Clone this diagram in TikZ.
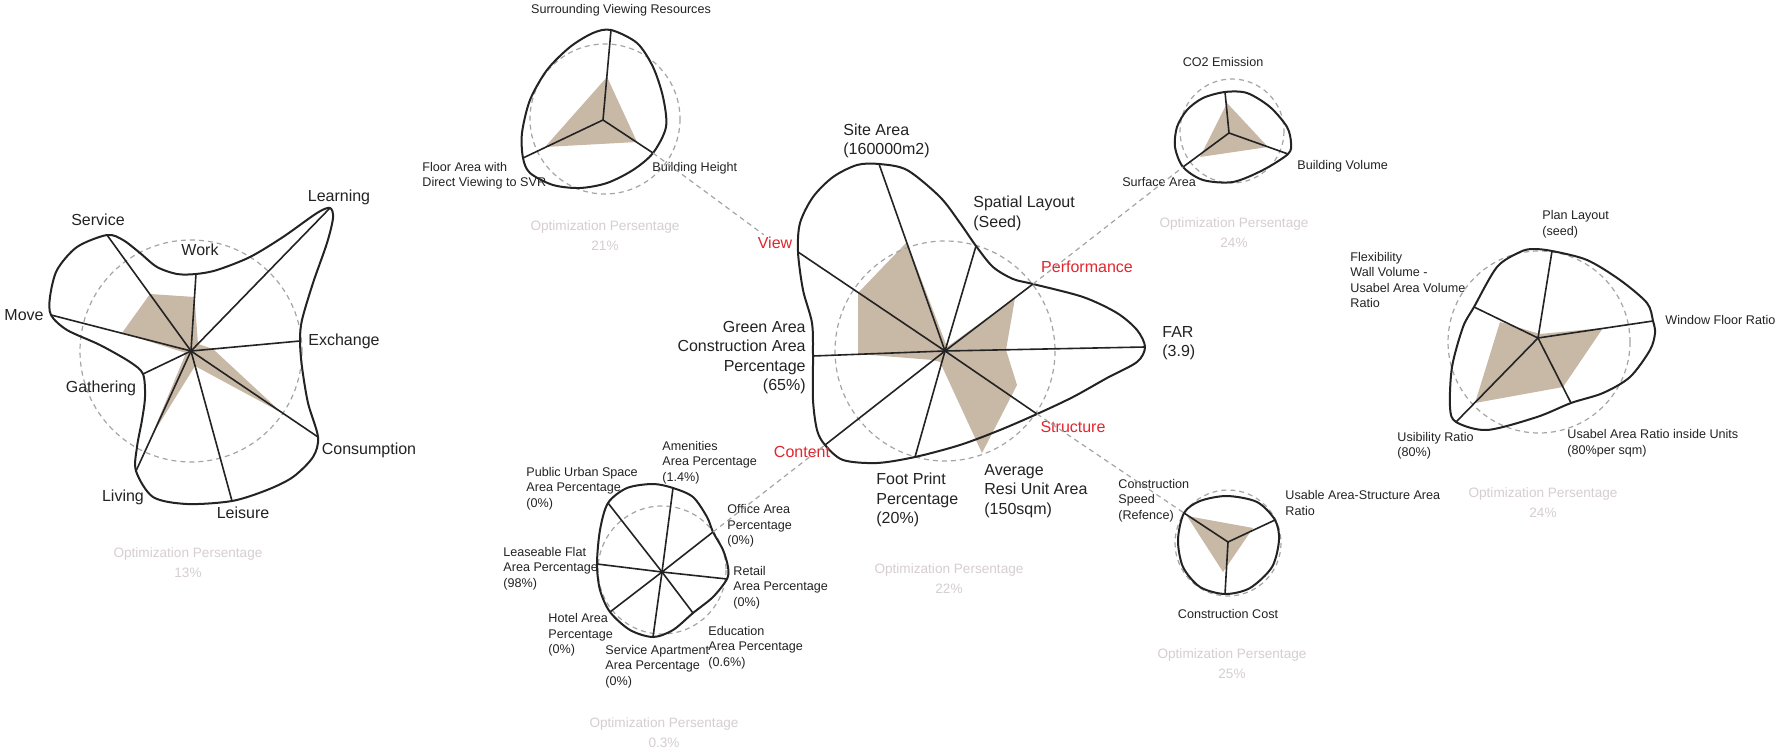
\documentclass[tikz,border=0pt]{standalone}
\usepackage{fontspec}
\setmainfont{Liberation Sans}

\definecolor{ink}{RGB}{35,35,35}
\definecolor{fillbrown}{RGB}{200,184,166}
\definecolor{ringgray}{RGB}{165,165,165}
\definecolor{tagred}{RGB}{226,38,45}
\definecolor{faint}{RGB}{214,206,210}

\tikzset{
  rim/.style={draw=ink, line width=1pt},
  spoke/.style={draw=ink, line width=0.8pt},
  area/.style={fill=fillbrown},
  ring/.style={draw=ringgray, dash pattern=on 2.5pt off 2pt, line width=0.6pt},
  link/.style={ring},
  lbig/.style={inner sep=0pt, text=ink, font=\fontsize{8}{9.75}\selectfont},
  lsmall/.style={inner sep=0pt, text=ink, font=\fontsize{6.3}{7.75}\selectfont},
  tagtext/.style={inner sep=1pt, text=tagred, font=\fontsize{8}{9.75}\selectfont},
  score/.style={inner sep=0pt, text=faint, align=center, font=\fontsize{6.8}{10}\selectfont}
}

\begin{document}
\begin{tikzpicture}[x=0.5pt,y=-0.5pt]

   \fill[white] (0,0) rectangle (1775,753);
   \useasboundingbox (0,0) rectangle (1775,753);

   % left chart
   \coordinate (l_0) at (191,351);
   \coordinate (l_1) at (196,274); \coordinate (l_2) at (330,208);
   \coordinate (l_3) at (300,341); \coordinate (l_4) at (318,437);
   \coordinate (l_5) at (232,501); \coordinate (l_6) at (136,471);
   \coordinate (l_7) at (143,374); \coordinate (l_8) at (51,315);
   \coordinate (l_9) at (107,235);

   \fill[area] (150,294) -- (194.5,297) -- (198,344) -- (213,349) -- (282,413)
     -- (195,366) -- (151,437) -- (186,353) -- (122,333) -- cycle;
   \draw[ring] (l_0) circle (111);
   \path[spoke] (l_0) edge (l_1) edge (l_2) edge (l_3) edge (l_4) edge (l_5)
     edge (l_6) edge (l_7) edge (l_8) edge (l_9);
   \draw[rim] plot[smooth cycle, tension=0.5] coordinates {(l_9) (123,240) (140,253)
     (157,267) (177,274) (l_1) (217,270) (250,257) (283,237) (317,213) (l_2)
     (333,218) (327,243) (313,283) (302,320) (l_3) (302,367) (308,403) (l_4)
     (313,457) (293,477) (267,490) (l_5) (187,504) (153,497) (l_6) (137,447)
     (142,420) (145,397) (l_7) (130,362) (100,345) (67,330) (l_8) (50,297)
     (57,270) (77,247)};

   \node[lbig] at (339,197) {Learning};
   \node[lbig] at (98,220) {Service};
   \node[lbig] at (200,250) {Work};
   \node[lbig] at (24,315) {Move};
   \node[lbig] at (344,341) {Exchange};
   \node[lbig] at (101,388) {Gathering};
   \node[lbig] at (369,450) {Consumption};
   \node[lbig] at (123,497) {Living};
   \node[lbig] at (243,513) {Leisure};
   \node[score] at (188,563) {Optimization Persentage\\13\%};

   % centre chart
   \coordinate (c_0) at (945,351);
   \coordinate (c_1) at (879,164); \coordinate (c_2) at (976,246);
   \coordinate (c_3) at (1033,284); \coordinate (c_4) at (1145,347);
   \coordinate (c_5) at (1037,414); \coordinate (c_6) at (915,457);
   \coordinate (c_7) at (825,445); \coordinate (c_8) at (813,356);
   \coordinate (c_9) at (798,252);

   \fill[area] (907,242) -- (947,347) -- (1015,298) -- (1006,350) -- (1017,385)
     -- (982,453) -- (940,362) -- (933,360) -- (858,354) -- (858,293) -- cycle;
   \draw[ring] (c_0) circle (110);
   \path[spoke] (c_0) edge (c_1) edge (c_2) edge (c_3) edge (c_4) edge (c_5)
     edge (c_6) edge (c_7) edge (c_8) edge (c_9);
   \draw[rim] plot[smooth cycle, tension=0.5] coordinates {(c_9) (800,223) (813,197)
     (833,177) (857,165) (c_1) (907,170) (940,197) (960,223) (c_2) (993,267)
     (1013,279) (c_3) (1083,297) (1117,313) (1137,330) (c_4) (1137,362)
     (1107,378) (1073,397) (c_5) (1000,430) (960,445) (c_6) (877,463) (843,460)
     (c_7) (817,430) (813,400) (c_8) (812,323) (803,290)};

   \node[lbig, anchor=west, align=left] at (843,141) {Site Area\\(160000m2)};
   \node[lbig, anchor=west, align=left] at (973,213.5) {Spatial Layout\\(Seed)};
   \node[lbig, anchor=west, align=left] at (1162,343) {FAR\\(3.9)};
   \node[lbig, anchor=west, align=left] at (984,491) {Average\\Resi Unit Area\\(150sqm)};
   \node[lbig, anchor=west, align=left] at (876,500) {Foot Print\\Percentage\\(20\%)};
   \node[lbig, anchor=east, align=right] at (806,357.5)
     {Green Area\\Construction Area\\Percentage\\(65\%)};
   \node[tagtext] (view) at (775,243) {View};
   \node[tagtext] (content) at (802,452) {Content};
   \node[tagtext] (perf) at (1087,267) {Performance};
   \node[tagtext] (struct) at (1073,427) {Structure};
   \node[score] at (949,579) {Optimization Persentage\\22\%};

   % view chart
   \coordinate (v_0) at (603,120);
   \coordinate (v_1) at (611,30); \coordinate (v_2) at (653,153);
   \coordinate (v_3) at (523,158);

   \fill[area] (607,77) -- (637,142) -- (545,147) -- cycle;
   \draw[ring] (605,119) circle (75);
   \path[spoke] (v_0) edge (v_1) edge (v_2) edge (v_3);
   \draw[rim] plot[smooth cycle, tension=0.5] coordinates {(v_1) (637,43) (653,67)
     (663,97) (666,127) (v_2) (633,170) (607,183) (580,188) (553,185) (530,173)
     (v_3) (522,133) (530,100) (547,70) (570,47) (593,33)};

   \node[lsmall] at (621,10) {Surrounding Viewing Resources};
   \node[lsmall, anchor=west, align=left] at (422,175.5) {Floor Area with\\Direct Viewing to SVR};
   \node[lsmall, anchor=west] at (652,168) {Building Height};
   \node[score] at (605,236) {Optimization Persentage\\21\%};

   % performance chart
   \coordinate (p_0) at (1229,133);
   \coordinate (p_1) at (1225,92); \coordinate (p_2) at (1288,154);
   \coordinate (p_3) at (1183,167);

   \fill[area] (1227,103) -- (1268,147) -- (1200,157) -- cycle;
   \draw[ring] (1232,131) circle (52);
   \path[spoke] (p_0) edge (p_1) edge (p_2) edge (p_3);
   \draw[rim] plot[smooth cycle, tension=0.5] coordinates {(p_1) (1247,93) (1270,107)
     (1287,127) (1291,143) (p_2) (1263,170) (1233,182) (1203,180) (p_3)
     (1175,147) (1177,127) (1187,110) (1203,98)};

   \node[lsmall] at (1223,62) {CO2 Emission};
   \node[lsmall, anchor=west] at (1297,166) {Building Volume};
   \node[lsmall] at (1159,182) {Surface Area};
   \node[score] at (1234,233) {Optimization Persentage\\24\%};

   % flexibility chart
   \coordinate (f_0) at (1538,338);
   \coordinate (f_1) at (1552,251); \coordinate (f_2) at (1653,321);
   \coordinate (f_3) at (1571,403); \coordinate (f_4) at (1456,422);
   \coordinate (f_5) at (1474,307);

   \fill[area] (1500,322) -- (1540,334) -- (1603,328) -- (1563,387) -- (1475,403) -- cycle;
   \draw[ring] (1539,342) circle (91);
   \path[spoke] (f_0) edge (f_1) edge (f_2) edge (f_3) edge (f_4) edge (f_5);
   \draw[rim] plot[smooth cycle, tension=0.5] coordinates {(f_1) (1587,260) (1620,280)
     (1647,303) (f_2) (1655,333) (1650,350) (1630,377) (1603,393) (f_3)
     (1537,417) (1487,430) (f_4) (1450,407) (1452,367) (1463,327) (f_5)
     (1497,267) (1520,252) (1533,249)};

   \node[lsmall, anchor=west, align=left] at (1542,224) {Plan Layout\\(seed)};
   \node[lsmall, anchor=west, align=left] at (1350,280)
     {Flexibility\\Wall Volume -\\Usabel Area Volume\\Ratio};
   \node[lsmall, anchor=west] at (1665,320) {Window Floor Ratio};
   \node[lsmall, anchor=west, align=left] at (1397,445.5) {Usibility Ratio\\(80\%)};
   \node[lsmall, anchor=west, align=left] at (1567,443)
     {Usabel Area Ratio inside Units\\(80\%per sqm)};
   \node[score] at (1543,503) {Optimization Persentage\\24\%};

   % structure chart
   \coordinate (s_0) at (1228,542);
   \coordinate (s_1) at (1184,513); \coordinate (s_2) at (1275,520);
   \coordinate (s_3) at (1225,594);

   \fill[area] (1187,516) -- (1253,528) -- (1223,572) -- cycle;
   \draw[ring] (1228,543) circle (53);
   \path[spoke] (s_0) edge (s_1) edge (s_2) edge (s_3);
   \draw[rim] plot[smooth cycle, tension=0.5] coordinates {(s_1) (1200,501) (1227,496)
     (1257,502) (s_2) (1279,540) (1272,567) (1250,588) (s_3) (1200,587)
     (1183,567) (1178,540)};

   \node[lsmall, anchor=west, align=left] at (1118,500.5) {Construction\\Speed\\(Refence)};
   \node[lsmall, anchor=west, align=left] at (1285,503) {Usable Area-Structure Area\\Ratio};
   \node[lsmall] at (1228,614) {Construction Cost};
   \node[score] at (1232,664) {Optimization Persentage\\25\%};

   % content chart
   \coordinate (t_0) at (662,572);
   \coordinate (t_1) at (673,488); \coordinate (t_2) at (713,532);
   \coordinate (t_3) at (727,579); \coordinate (t_4) at (693,613);
   \coordinate (t_5) at (653,637); \coordinate (t_6) at (610,612);
   \coordinate (t_7) at (597,564); \coordinate (t_8) at (608,503);

   \draw[ring] (662,570) circle (64);
   \path[spoke] (t_0) edge (t_1) edge (t_2) edge (t_3) edge (t_4) edge (t_5)
     edge (t_6) edge (t_7) edge (t_8);
   \draw[rim] plot[smooth cycle, tension=0.5] coordinates {(t_8) (627,488) (653,484)
     (t_1) (693,497) (707,517) (t_2) (723,550) (728,567) (t_3) (713,597) (t_4)
     (673,630) (t_5) (630,630) (t_6) (600,590) (t_7) (600,530)};

   \node[lsmall, anchor=west, align=left] at (662,462.5) {Amenities\\Area Percentage\\(1.4\%)};
   \node[lsmall, anchor=west, align=left] at (526,488.5) {Public Urban Space\\Area Percentage\\(0\%)};
   \node[lsmall, anchor=west, align=left] at (727,526) {Office Area\\Percentage\\(0\%)};
   \node[lsmall, anchor=west, align=left] at (503,568.5) {Leaseable Flat\\Area Percentage\\(98\%)};
   \node[lsmall, anchor=west, align=left] at (733,587.5) {Retail\\Area Percentage\\(0\%)};
   \node[lsmall, anchor=west, align=left] at (548,635) {Hotel Area\\Percentage\\(0\%)};
   \node[lsmall, anchor=west, align=left] at (708,647.5) {Education\\Area Percentage\\(0.6\%)};
   \node[lsmall, anchor=west, align=left] at (605,666.5) {Service Apartment\\Area Percentage\\(0\%)};
   \node[score] at (664,733) {Optimization Persentage\\0.3\%};

   % links between the charts
   \path[link]
    (v_2) edge (view)
    (c_3) edge (p_3)
    (c_5) edge (s_1)
    (t_2) edge (c_7);

\end{tikzpicture}
\end{document}
